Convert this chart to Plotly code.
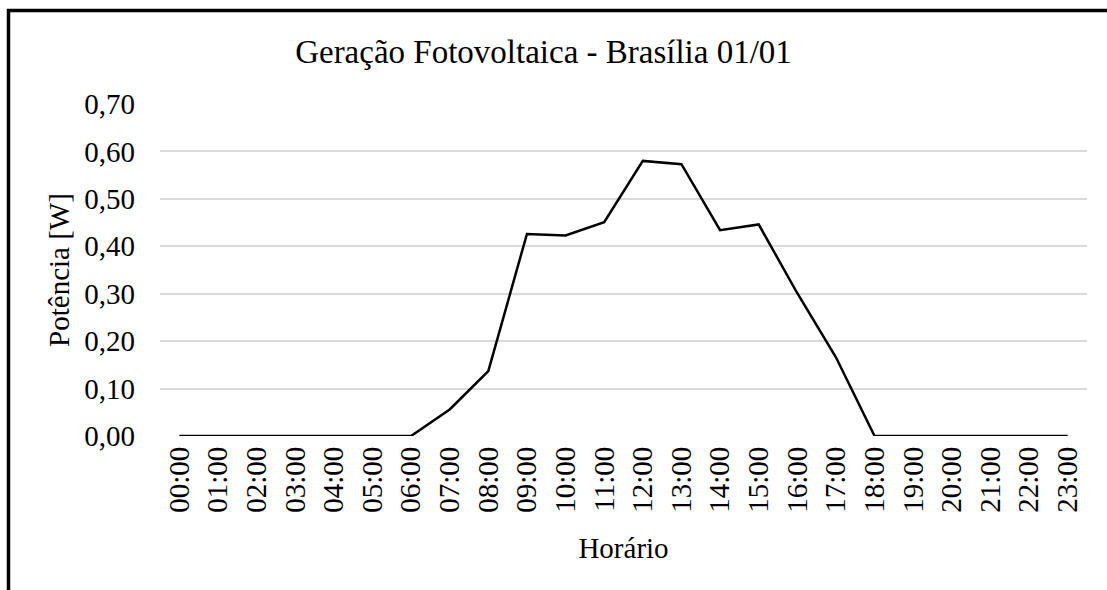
import plotly.graph_objects as go

horarios = [f"{h:02d}:00" for h in range(24)]
potencia = [0.0, 0.0, 0.0, 0.0, 0.001, 0.0005, 0.0, 0.056, 0.137, 0.426, 0.423, 0.451,
            0.580, 0.573, 0.434, 0.446, 0.301, 0.166, 0.0, 0.0, 0.0, 0.0, 0.0, 0.0]
y_ticks = [0.0, 0.1, 0.2, 0.3, 0.4, 0.5, 0.6, 0.7]
y_labels = [f"{v:.2f}".replace(".", ",") for v in y_ticks]

W, H = 1107, 590
L, R, T, B = 160, 20, 104, 154
pw, ph = W - L - R, H - T - B

def px(x):
    return (x - L) / pw

def py(y):
    return (H - B - y) / ph

fig = go.Figure()
fig.add_trace(go.Scatter(x=horarios, y=potencia, mode="lines",
                         line=dict(color="black", width=2.5), showlegend=False))

font = "Liberation Serif, Times New Roman, serif"
fig.update_layout(
    width=W, height=H,
    margin=dict(l=L, r=R, t=T, b=B, autoexpand=False),
    paper_bgcolor="white", plot_bgcolor="white",
    font=dict(family=font, color="black", size=29),
    title=dict(text="Geração Fotovoltaica - Brasília 01/01", x=(543.5) / W, xanchor="center",
               y=1 - 51 / H, yanchor="middle", font=dict(size=33, family=font, color="black")),
    xaxis=dict(type="category", range=[-0.5, 23.5], tickangle=-90, showgrid=False,
               zeroline=False, showline=False, automargin=False,
               tickfont=dict(size=29, family=font),
               title=dict(text="Horário", font=dict(size=29, family=font), standoff=25),
               ticks="", ticklabelstandoff=4),
    yaxis=dict(range=[0, 0.7], tickvals=y_ticks, ticktext=y_labels, showgrid=True,
               gridcolor="#d9d9d9", gridwidth=1.5, zeroline=False, showline=False, automargin=False,
               tickfont=dict(size=29, family=font), ticks="", ticklabelstandoff=24,
               title=dict(text="Potência [W]", font=dict(size=29, family=font), standoff=6)),
    shapes=[dict(type="path", xref="paper", yref="paper",
                 path=f"M {px(8.5)} {py(600)} L {px(8.5)} {py(10.5)} L {px(1115)} {py(10.5)}",
                 line=dict(color="black", width=3.5), layer="above")],
)

fig.write_html("out.html", config={"displayModeBar": False},
               post_script="document.body.style.margin='0';")
